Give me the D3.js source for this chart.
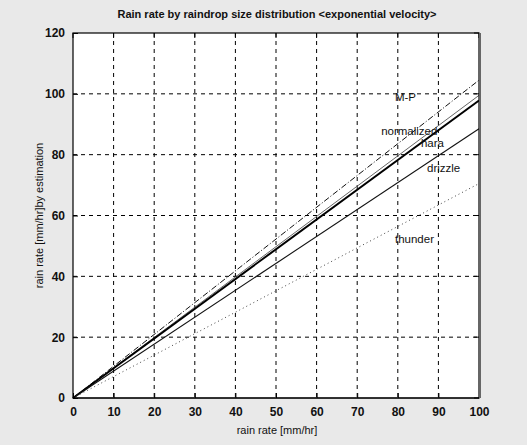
<!DOCTYPE html>
<html><head><meta charset="utf-8">
<script src="https://cdn.jsdelivr.net/npm/d3@7"></script>
<style>body{margin:0;background:#e9e9e9;}svg{display:block;font-family:"Liberation Sans",Arial,sans-serif;}</style>
</head><body><svg id="c" width="527" height="445"></svg>
<script>
const xRange = [0, 100];
const seriesNames = ["M-P", "normalized", "hara", "drizzle", "thunder"];
const seriesAtZero = [0, 0, 0, 0, 0];
const seriesAt100 = [104.5, 99.5, 97.8, 88.5, 70.5];
const xTicks = [0,10,20,30,40,50,60,70,80,90,100];
const yTicks = [0,20,40,60,80,100,120];
const labelX = [79.3, 75.9, 85.7, 87.2, 79.3];
const labelY = [97.7, 86.5, 82.6, 74.3, 51];
const title = "Rain rate by raindrop size distribution <exponential velocity>";
const xTitle = "rain rate [mm/hr]";
const yTitle = "rain rate [mm/hr]by estimation";

const styles = [
  {w:1, dash:"6,2,1,2", c:"#111"},
  {w:0.9, dash:null, c:"#555"},
  {w:2, dash:null, c:"#000"},
  {w:1.1, dash:null, c:"#111"},
  {w:1, dash:"1,3", c:"#444"}
];

const svg = d3.select("#c");
const L=73, R=479, T=33, B=398;
const x = d3.scaleLinear().domain([0,100]).range([L,R]);
const y = d3.scaleLinear().domain([0,120]).range([B,T]);

svg.append("rect").attr("x",L).attr("y",T).attr("width",R-L).attr("height",B-T).attr("fill","#fff");

// grid
const g = svg.append("g");
g.selectAll(".gx").data(xTicks.slice(1,-1)).join("line")
  .attr("x1",d=>x(d)).attr("x2",d=>x(d)).attr("y1",T).attr("y2",B)
  .attr("stroke","#000").attr("stroke-width",1).attr("stroke-dasharray","4,4");
g.selectAll(".gy").data(yTicks.slice(1,-1)).join("line")
  .attr("y1",d=>y(d)).attr("y2",d=>y(d)).attr("x1",L).attr("x2",R)
  .attr("stroke","#000").attr("stroke-width",1).attr("stroke-dasharray","4,4");

// series
const data = seriesNames.map((n,i)=>({name:n, pts:[[xRange[0],seriesAtZero[i]],[xRange[1],seriesAt100[i]]]}));
const line = d3.line().x(d=>x(d[0])).y(d=>y(d[1]));
svg.selectAll(".s").data(data).join("path")
  .attr("d",d=>line(d.pts)).attr("fill","none")
  .attr("stroke",(d,i)=>styles[i].c).attr("stroke-width",(d,i)=>styles[i].w)
  .attr("stroke-dasharray",(d,i)=>styles[i].dash);

// labels
svg.selectAll(".lb").data(seriesNames).join("text")
  .attr("x",(d,i)=>x(labelX[i])).attr("y",(d,i)=>y(labelY[i]))
  .attr("font-size",11.5).attr("fill","#111").text(d=>d);

// axes
const xa = d3.axisBottom(x).tickValues(xTicks).tickSizeInner(-5).tickSizeOuter(0).tickPadding(9);
const ya = d3.axisLeft(y).tickValues(yTicks).tickSizeInner(-5).tickSizeOuter(0).tickPadding(8);
const gx = svg.append("g").attr("transform",`translate(0,${B})`).call(xa);
const gy = svg.append("g").attr("transform",`translate(${L},0)`).call(ya);
[gx,gy].forEach(a=>{a.select(".domain").remove();a.selectAll("text").attr("font-size",12).attr("font-weight","bold").attr("fill","#111").attr("font-family","'Liberation Sans',Arial,sans-serif");});
gx.append("line").attr("x1",L).attr("x2",R).attr("stroke","#000");
// top ticks / right ticks
svg.selectAll(".tt").data(xTicks).join("line").attr("x1",d=>x(d)).attr("x2",d=>x(d)).attr("y1",T).attr("y2",T+5).attr("stroke","#000");
svg.selectAll(".rt").data(yTicks).join("line").attr("y1",d=>y(d)).attr("y2",d=>y(d)).attr("x1",R).attr("x2",R-5).attr("stroke","#000");
svg.append("rect").attr("x",L).attr("y",T).attr("width",R-L).attr("height",B-T).attr("fill","none").attr("stroke","#000").attr("stroke-width",1.2);
svg.append("line").attr("x1",R+1).attr("x2",R+1).attr("y1",T).attr("y2",B).attr("stroke","#666").attr("stroke-width",2);

svg.append("text").attr("x",277).attr("y",18).attr("text-anchor","middle")
  .attr("font-size",11).attr("font-weight","bold").attr("fill","#111").text(title);
svg.append("text").attr("x",277).attr("y",434).attr("text-anchor","middle")
  .attr("font-size",11).attr("fill","#111").text(xTitle);
svg.append("text").attr("transform",`translate(43,${(T+B)/2}) rotate(-90)`).attr("text-anchor","middle")
  .attr("font-size",11).attr("fill","#111").text(yTitle);
</script></body></html>
